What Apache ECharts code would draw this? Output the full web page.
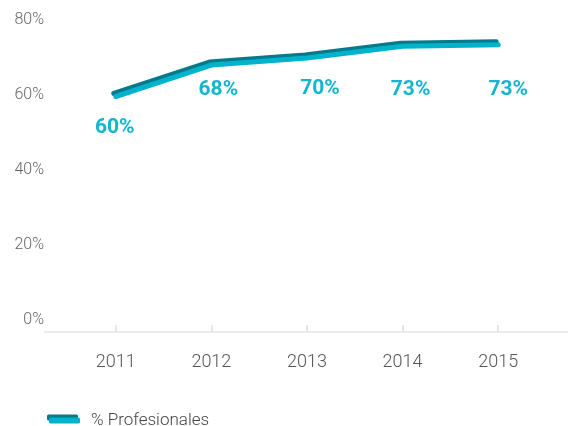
<!DOCTYPE html>
<html>
<head>
<meta charset="utf-8">
<script src="https://cdn.jsdelivr.net/npm/echarts@6/dist/echarts.min.js"></script>
<style>
  html, body { margin: 0; padding: 0; background: #fff; }
  #chart { width: 568px; height: 426px; }
</style>
</head>
<body>
<div id="chart"></div>
<script>
  // datos
  var years = ['2011', '2012', '2013', '2014', '2015']
  var profesionales = [60.0, 68.0, 69.8, 72.8, 73.2]
  var yTicks = [0, 20, 40, 60, 80]
  var seriesName = '% Profesionales'

  var cyan = '#00b3cc'
  var dark = '#08798a'

  // desplazamiento de cada etiqueta respecto al punto
  var labelOffsets = [[-1, 31], [7, 25], [13, 31], [8, 43], [10, 45]]

  var chart = echarts.init(document.getElementById('chart'))

  chart.setOption({
    animation: false,
    grid: { left: 45, right: 0, top: 18, bottom: 94 },
    legend: {
      left: 44,
      top: 407,
      icon: 'roundRect',
      itemWidth: 31,
      itemHeight: 6,
      itemGap: 10,
      itemStyle: { color: cyan, shadowColor: dark, shadowOffsetX: -2, shadowOffsetY: -3, shadowBlur: 0 },
      textStyle: { fontFamily: 'Roboto', fontWeight: 300, fontSize: 17, color: '#444', padding: [0, 0, 0, 6] },
      data: [seriesName]
    },
    xAxis: {
      type: 'value',
      min: 2010.26,
      max: 2015.73,
      splitLine: { show: false },
      axisLine: { show: true, lineStyle: { color: '#ececec', width: 2 } },
      axisTick: {
        show: true, inside: true, length: 7,
        customValues: years.map(Number),
        lineStyle: { color: '#e6e6e6', width: 2 }
      },
      axisLabel: {
        customValues: years.map(Number),
        margin: 21,
        fontFamily: 'Roboto', fontWeight: 300, fontSize: 18, color: '#555',
        formatter: function (v) { return String(Math.round(v)) }
      }
    },
    yAxis: [{
      type: 'value',
      min: 0,
      max: 80,
      show: false
    }, {
      // eje solo para las etiquetas
      type: 'value',
      min: -3.2,
      max: 80.53,
      position: 'left',
      axisLine: { show: false },
      axisTick: { show: false },
      splitLine: { show: false },
      axisLabel: {
        customValues: yTicks,
        margin: 1,
        fontFamily: 'Roboto', fontWeight: 300, fontSize: 16, color: '#666',
        formatter: '{value}%'
      }
    }],
    series: [{
      name: seriesName,
      type: 'line',
      yAxisIndex: 0,
      showSymbol: true,
      symbolSize: 0.1,
      lineStyle: {
        color: cyan, width: 5, cap: 'round', join: 'round',
        shadowColor: dark, shadowOffsetX: -2, shadowOffsetY: -3, shadowBlur: 0
      },
      itemStyle: { color: cyan },
      data: years.map(function (y, i) {
        return {
          value: [Number(y), profesionales[i]],
          label: { offset: labelOffsets[i] }
        }
      }),
      label: {
        show: true,
        position: 'inside',
        fontFamily: 'Roboto', fontWeight: 'bold', fontSize: 21, color: '#12b6ce',
        formatter: function (p) { return Math.round(p.value[1]) + '%' }
      }
    }]
  })
</script>
</body>
</html>
